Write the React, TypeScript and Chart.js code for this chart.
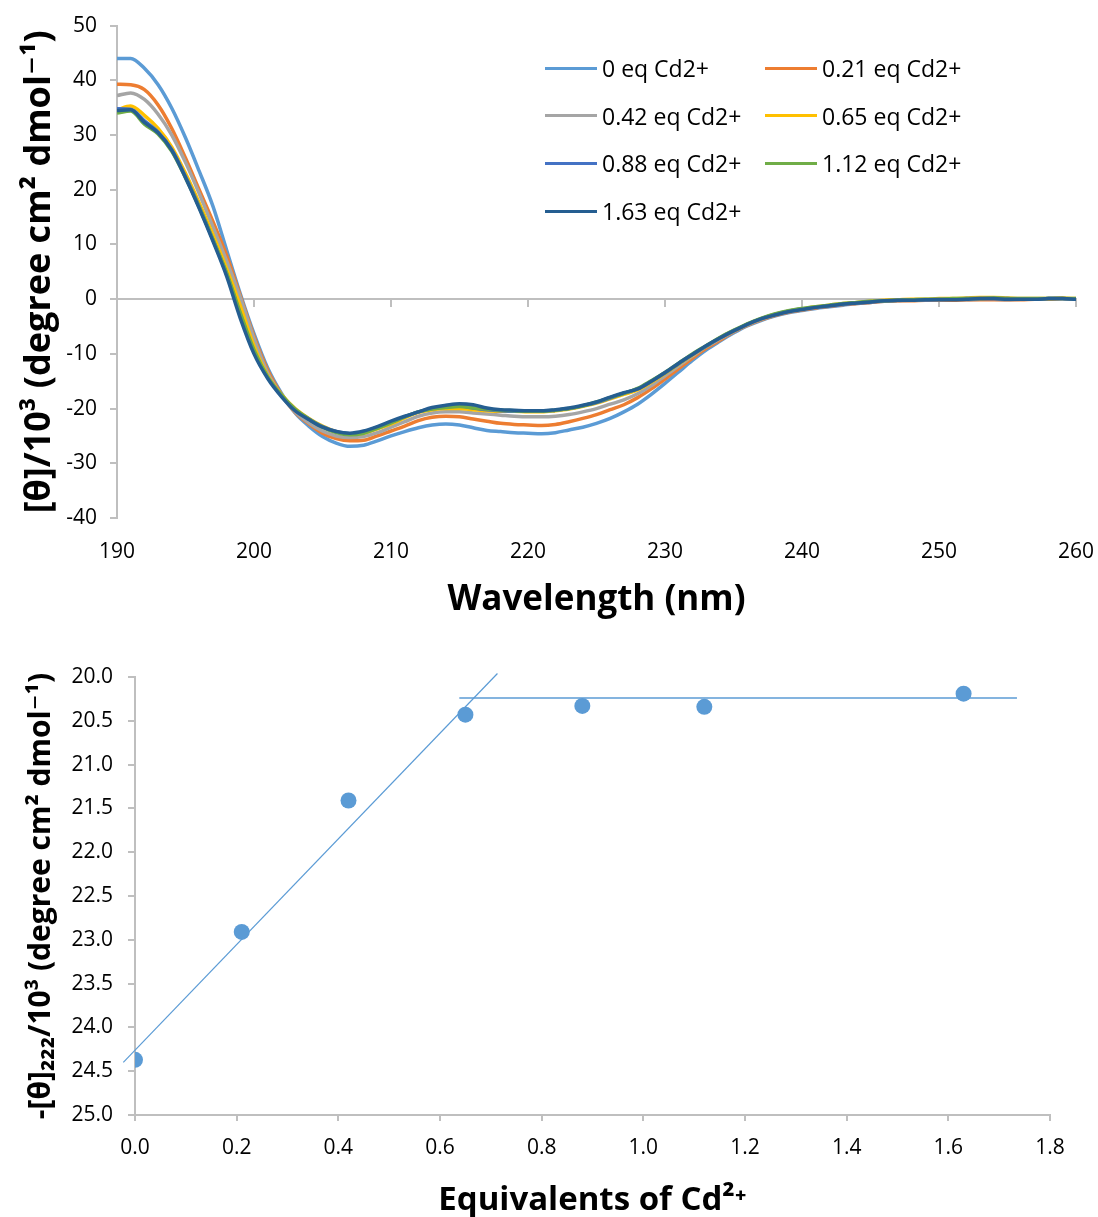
import React, { useEffect, useRef } from 'react';
import { Chart, registerables } from 'chart.js';

Chart.register(...registerables);

// ---------- data: CD spectra ----------
const wavelengths = [
  190, 191, 192, 193, 194, 195, 196, 197, 198, 199,
  200, 201, 202, 203, 204, 205, 206, 207, 208, 209,
  210, 211, 212, 213, 214, 215, 216, 217, 218, 219,
  220, 221, 222, 223, 224, 225, 226, 227, 228, 229,
  230, 231, 232, 233, 234, 235, 236, 237, 238, 239,
  240, 241, 242, 243, 244, 245, 246, 247, 248, 249,
  250, 251, 252, 253, 254, 255, 256, 257, 258, 259, 260,
];

const eq000 = [
  44.0, 44.0, 42.2, 39.2, 34.9, 29.5, 23.4, 17.0, 9.0, 1.0,
  -6.3, -12.6, -17.2, -20.8, -23.2, -25.1, -26.3, -26.9, -26.7, -25.9,
  -25.0, -24.2, -23.5, -23.0, -22.8, -23.0, -23.5, -24.0, -24.2, -24.4,
  -24.5, -24.6, -24.4, -23.9, -23.4, -22.7, -21.8, -20.6, -19.2, -17.4,
  -15.4, -13.3, -11.2, -9.3, -7.7, -6.2, -4.9, -3.9, -3.1, -2.5,
  -2.1, -1.7, -1.4, -1.1, -0.8, -0.6, -0.4, -0.3, -0.2, -0.2,
  -0.1, -0.1, -0.1, 0.0, 0.0, -0.1, 0.0, 0.0, 0.1, 0.1, 0.0,
];
const eq021 = [
  39.3, 39.2, 38.3, 35.5, 31.2, 25.8, 20.0, 14.2, 8.0, 0.6,
  -6.8, -13.0, -17.4, -20.7, -22.8, -24.5, -25.5, -25.9, -25.8, -25.0,
  -24.1, -23.2, -22.2, -21.6, -21.4, -21.5, -21.9, -22.3, -22.7, -22.9,
  -23.0, -23.1, -22.9, -22.4, -21.8, -21.1, -20.2, -19.3, -18.0, -16.4,
  -14.6, -12.7, -10.8, -9.0, -7.5, -6.0, -4.8, -3.8, -3.0, -2.4,
  -2.0, -1.6, -1.3, -1.0, -0.8, -0.6, -0.4, -0.3, -0.3, -0.2,
  -0.2, -0.2, -0.1, -0.1, -0.1, -0.1, -0.1, 0.0, 0.0, 0.1, 0.0,
];
const eq042 = [
  37.2, 37.7, 36.5, 33.8, 30.0, 25.0, 19.3, 13.2, 7.0, 0.3,
  -7.2, -13.5, -17.6, -20.6, -22.6, -24.1, -25.0, -25.3, -25.1, -24.4,
  -23.4, -22.4, -21.4, -20.8, -20.6, -20.6, -20.8, -21.0, -21.2, -21.4,
  -21.5, -21.5, -21.4, -21.1, -20.6, -20.0, -19.2, -18.4, -17.3, -15.8,
  -14.0, -12.2, -10.4, -8.7, -7.3, -5.9, -4.7, -3.7, -2.9, -2.3,
  -1.9, -1.5, -1.2, -0.9, -0.7, -0.5, -0.3, -0.2, -0.2, -0.1,
  -0.1, 0.0, 0.0, 0.1, 0.1, 0.0, 0.0, 0.0, 0.1, 0.1, 0.0,
];
const eq065 = [
  34.6, 35.3, 33.6, 31.2, 27.8, 23.0, 17.6, 11.8, 5.6, -1.2,
  -8.6, -14.0, -17.4, -20.0, -21.8, -23.2, -24.2, -24.7, -24.5, -23.7,
  -22.8, -21.7, -20.7, -20.2, -20.0, -20.0, -20.2, -20.4, -20.5, -20.5,
  -20.6, -20.6, -20.4, -20.1, -19.6, -19.0, -18.2, -17.4, -16.6, -15.2,
  -13.6, -11.9, -10.2, -8.6, -7.1, -5.8, -4.6, -3.6, -2.8, -2.2,
  -1.8, -1.4, -1.1, -0.8, -0.6, -0.4, -0.2, -0.1, 0.0, 0.0,
  0.1, 0.1, 0.2, 0.3, 0.3, 0.2, 0.1, 0.1, 0.1, 0.2, 0.1,
];
const eq088 = [
  34.8, 34.7, 32.6, 30.5, 27.3, 22.4, 16.9, 10.9, 4.6, -2.8,
  -9.6, -14.3, -17.6, -20.2, -21.9, -23.3, -24.2, -24.6, -24.3, -23.4,
  -22.5, -21.5, -20.6, -20.0, -19.6, -19.5, -19.9, -20.2, -20.4, -20.5,
  -20.5, -20.5, -20.3, -20.0, -19.5, -18.9, -18.1, -17.2, -16.4, -15.0,
  -13.5, -11.8, -10.1, -8.6, -7.1, -5.8, -4.6, -3.6, -2.8, -2.2,
  -1.8, -1.5, -1.2, -0.9, -0.7, -0.5, -0.3, -0.2, -0.1, -0.1,
  0.0, 0.0, 0.1, 0.1, 0.1, 0.1, 0.0, 0.0, 0.1, 0.1, 0.0,
];
const eq112 = [
  34.0, 34.4, 32.0, 30.2, 27.0, 22.2, 16.8, 10.9, 4.8, -2.5,
  -9.3, -14.2, -17.5, -20.1, -21.9, -23.4, -24.4, -24.8, -24.5, -23.6,
  -22.6, -21.5, -20.6, -20.1, -19.8, -19.6, -19.9, -20.1, -20.3, -20.4,
  -20.5, -20.5, -20.3, -20.0, -19.5, -18.8, -18.0, -17.2, -16.3, -14.9,
  -13.4, -11.7, -10.0, -8.5, -7.0, -5.7, -4.5, -3.5, -2.7, -2.1,
  -1.7, -1.4, -1.1, -0.8, -0.6, -0.4, -0.3, -0.2, -0.1, 0.0,
  0.0, 0.1, 0.1, 0.1, 0.2, 0.1, 0.1, 0.1, 0.1, 0.1, 0.1,
];
const eq163 = [
  34.5, 34.6, 32.3, 30.4, 27.2, 22.2, 16.6, 10.6, 4.2, -3.5,
  -10.0, -14.5, -17.8, -20.4, -22.0, -23.4, -24.2, -24.5, -24.1, -23.3,
  -22.3, -21.4, -20.6, -19.8, -19.4, -19.1, -19.3, -19.9, -20.2, -20.3,
  -20.4, -20.4, -20.2, -19.9, -19.4, -18.8, -17.9, -17.1, -16.4, -15.0,
  -13.4, -11.7, -10.1, -8.5, -7.1, -5.8, -4.6, -3.6, -2.9, -2.3,
  -1.9, -1.5, -1.2, -0.9, -0.7, -0.5, -0.3, -0.2, -0.2, -0.1,
  -0.1, -0.1, 0.0, 0.1, 0.1, 0.0, 0.0, 0.0, 0.1, 0.1, 0.0,
];

const spectraSeries = [eq000, eq021, eq042, eq065, eq088, eq112, eq163];
const seriesLabels = [
  '0 eq Cd2+', '0.21 eq Cd2+', '0.42 eq Cd2+', '0.65 eq Cd2+',
  '0.88 eq Cd2+', '1.12 eq Cd2+', '1.63 eq Cd2+',
];
const seriesColors = ['#5B9BD5', '#ED7D31', '#A5A5A5', '#FFC000', '#4472C4', '#70AD47', '#255E91'];

// ---------- data: titration at 222 nm ----------
const equivalents = [0, 0.21, 0.42, 0.65, 0.88, 1.12, 1.63];
const theta222 = [24.37, 22.91, 21.41, 20.43, 20.33, 20.34, 20.19];
const riseLineX = [-0.023, 0.713];
const riseLineY = [24.40, 19.96];
const plateauLineX = [0.638, 1.735];
const plateauLineY = [20.24, 20.24];

const FONT = '"Open Sans", "DejaVu Sans", sans-serif';
const AXIS_GRAY = '#BFBFBF';

function SpectraChart() {
  const ref = useRef<HTMLCanvasElement | null>(null);
  useEffect(() => {
    if (!ref.current) return;
    const chart = new Chart(ref.current, {
      type: 'line',
      data: {
        datasets: spectraSeries.map((vals, i) => ({
          label: seriesLabels[i],
          data: wavelengths.map((w, j) => ({ x: w, y: vals[j] })),
          borderColor: seriesColors[i],
          backgroundColor: seriesColors[i],
          borderWidth: 3.5,
          pointRadius: 0,
          fill: false,
          cubicInterpolationMode: 'monotone' as const,
          order: spectraSeries.length - i,
          xAxisID: 'x',
          yAxisID: 'y',
        })),
      },
      options: {
        responsive: false,
        animation: false,
        devicePixelRatio: 1,
        layout: { padding: { top: 25, right: 22, left: 0, bottom: 0 } },
        plugins: { legend: { display: false }, tooltip: { enabled: false } },
        scales: {
          x: {
            type: 'linear',
            position: 'bottom',
            min: 190,
            max: 260,
            ticks: { stepSize: 10, padding: 0, color: '#000', font: { family: FONT, size: 21 } },
            grid: { display: false, drawTicks: true, tickLength: 21 },
            border: { display: false },
            title: {
              display: true,
              text: 'Wavelength (nm)',
              color: '#000',
              font: { family: FONT, size: 35, weight: 'bold', lineHeight: 1 },
              padding: { top: 0, bottom: 22 },
            },
            afterFit: (s: any) => { s.height = 122; },
          },
          x0: {
            type: 'linear',
            position: { y: 0 },
            min: 190,
            max: 260,
            ticks: { stepSize: 10, display: false, padding: 0 },
            grid: { drawOnChartArea: false, drawTicks: true, tickLength: 7, color: AXIS_GRAY, lineWidth: 2 },
            border: { display: true, color: AXIS_GRAY, width: 2 },
          },
          y: {
            type: 'linear',
            position: 'left',
            min: -40,
            max: 50,
            ticks: { stepSize: 10, padding: 13, color: '#000', font: { family: FONT, size: 21 } },
            grid: { drawOnChartArea: false, drawTicks: true, tickLength: 7, color: AXIS_GRAY, lineWidth: 2 },
            border: { display: true, color: AXIS_GRAY, width: 2 },
            title: {
              display: true,
              text: '[θ]/10³ (degree cm² dmol⁻¹)',
              color: '#000',
              font: { family: FONT, size: 36, weight: 'bold', lineHeight: 1 },
              padding: { top: 22, bottom: 0 },
            },
            afterFit: (s: any) => { s.width = 117; },
          },
        },
      } as any,
    });
    return () => chart.destroy();
  }, []);
  return <canvas ref={ref} width={1098} height={640} style={{ position: 'absolute', left: 0, top: 0 }} />;
}

function TitrationChart() {
  const ref = useRef<HTMLCanvasElement | null>(null);
  useEffect(() => {
    if (!ref.current) return;
    const chart = new Chart(ref.current, {
      type: 'scatter',
      data: {
        datasets: [
          {
            label: 'θ222',
            data: equivalents.map((e, i) => ({ x: e, y: theta222[i] })),
            pointRadius: 8,
            pointBackgroundColor: '#5B9BD5',
            pointBorderWidth: 0,
            showLine: false,
            order: 0,
          },
          {
            label: 'rise',
            data: riseLineX.map((x, i) => ({ x, y: riseLineY[i] })),
            showLine: true,
            borderColor: '#5B9BD5',
            borderWidth: 1.2,
            pointRadius: 0,
            clip: false,
            order: 1,
          },
          {
            label: 'plateau',
            data: plateauLineX.map((x, i) => ({ x, y: plateauLineY[i] })),
            showLine: true,
            borderColor: '#5B9BD5',
            borderWidth: 1.5,
            pointRadius: 0,
            clip: false,
            order: 2,
          },
        ],
      },
      options: {
        responsive: false,
        animation: false,
        devicePixelRatio: 1,
        layout: { padding: { top: 37, right: 48, left: 0, bottom: 0 } },
        plugins: { legend: { display: false }, tooltip: { enabled: false } },
        scales: {
          x: {
            type: 'linear',
            position: 'bottom',
            min: 0,
            max: 1.8,
            ticks: {
              stepSize: 0.2,
              padding: 14,
              color: '#000',
              font: { family: FONT, size: 21 },
              callback: (v: any) => Number(v).toFixed(1),
            },
            grid: { drawOnChartArea: false, drawTicks: true, tickLength: 6, color: AXIS_GRAY, lineWidth: 2 },
            border: { display: true, color: AXIS_GRAY, width: 2 },
            title: {
              display: true,
              text: 'Equivalents of Cd²⁺',
              color: '#000',
              font: { family: FONT, size: 33, weight: 'bold', lineHeight: 1 },
              padding: { top: 0, bottom: 0 },
            },
            afterFit: (s: any) => { s.height = 102; },
          },
          y: {
            type: 'linear',
            position: 'left',
            reverse: true,
            min: 20,
            max: 25,
            ticks: {
              stepSize: 0.5,
              padding: 15,
              color: '#000',
              font: { family: FONT, size: 21 },
              callback: (v: any) => Number(v).toFixed(1),
            },
            grid: { drawOnChartArea: false, drawTicks: true, tickLength: 7, color: AXIS_GRAY, lineWidth: 2 },
            border: { display: true, color: AXIS_GRAY, width: 2 },
            title: {
              display: true,
              text: '-[θ]₂₂₂/10³ (degree cm² dmol⁻¹)',
              color: '#000',
              font: { family: FONT, size: 30, weight: 'bold', lineHeight: 1 },
              padding: { top: 26, bottom: 0 },
            },
            afterFit: (s: any) => { s.width = 135; },
          },
        },
      } as any,
    });
    return () => chart.destroy();
  }, []);
  return <canvas ref={ref} width={1098} height={577} style={{ position: 'absolute', left: 0, top: 640 }} />;
}

function Legend() {
  return (
    <>
      {seriesLabels.map((label, i) => {
        const row = Math.floor(i / 2);
        const col = i % 2;
        const cy = 68 + row * 47.7;
        const lx = 545 + col * 220;
        return (
          <React.Fragment key={label}>
            <div style={{ position: 'absolute', left: lx, top: cy - 1.5, width: 52, height: 3, background: seriesColors[i] }} />
            <div
              style={{
                position: 'absolute',
                left: lx + 57,
                top: cy - 15,
                height: 30,
                lineHeight: '30px',
                fontFamily: FONT,
                fontSize: 23,
                color: '#000',
                whiteSpace: 'nowrap',
              }}
            >
              {label}
            </div>
          </React.Fragment>
        );
      })}
    </>
  );
}

export default function App() {
  return (
    <div style={{ position: 'absolute', left: 0, top: 0, width: 1098, height: 1217, background: '#fff', overflow: 'hidden' }}>
      <SpectraChart />
      <TitrationChart />
      <Legend />
    </div>
  );
}
